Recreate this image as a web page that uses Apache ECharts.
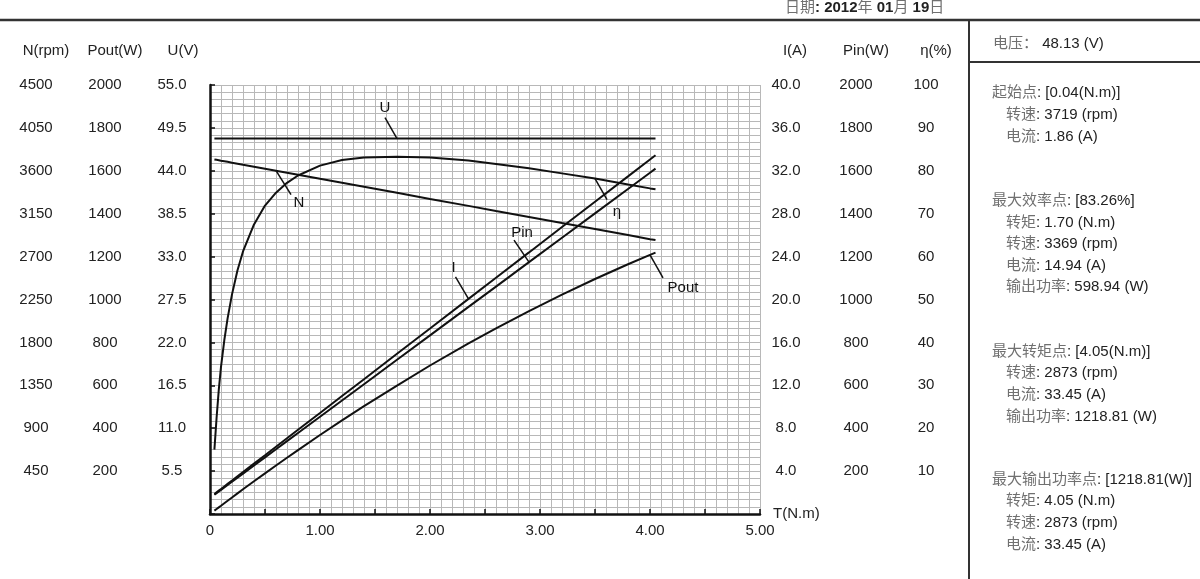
<!DOCTYPE html>
<html><head><meta charset="utf-8">
<script src="https://cdn.jsdelivr.net/npm/echarts@6/dist/echarts.min.js"></script>
<style>html,body{margin:0;padding:0;background:#fff}#c{width:1200px;height:579px}</style>
</head><body><div id="c"></div>
<script>
// ---- data ----
const torque      = [0.04,0.06,0.08,0.10,0.13,0.16,0.20,0.25,0.30,0.40,0.50,0.60,0.70,0.80,1.00,1.20,1.40,1.70,2.00,2.35,2.60,2.90,3.20,3.50,3.80,4.00,4.05];
const speed       = [3719,3715,3711,3706,3700,3694,3685,3675,3664,3643,3622,3601,3580,3559,3516,3474,3432,3369,3305,3232,3179,3116,3052,2989,2926,2883,2873];
const current     = [1.86,2.02,2.18,2.33,2.57,2.81,3.12,3.52,3.91,4.70,5.48,6.27,7.06,7.85,9.42,11.00,12.57,14.94,17.30,20.06,22.03,24.39,26.76,29.12,31.48,33.06,33.45];
const inputPower  = [89.5,97.1,104.7,112.3,123.6,135.0,150.2,169.2,188.1,226.0,263.9,301.9,339.8,377.7,453.5,529.4,605.2,719.0,832.7,965.4,1060.2,1174.0,1287.7,1401.5,1515.2,1591.0,1610.0];
const outputPower = [15.6,23.3,31.1,38.8,50.4,61.9,77.2,96.2,115.1,152.6,189.6,226.3,262.4,298.1,368.2,436.6,503.2,598.9,692.3,795.2,865.5,946.1,1022.8,1095.5,1164.2,1207.8,1218.8];
const efficiency  = [15.0,22.5,29.0,34.3,40.5,45.6,51.2,56.8,61.2,67.5,71.9,74.9,77.2,78.9,81.2,82.5,83.1,83.26,83.1,82.4,81.6,80.6,79.4,78.2,76.8,75.9,75.7];
const voltage     = [48.13,48.13,48.13,48.13,48.13,48.13,48.13,48.13,48.13,48.13,48.13,48.13,48.13,48.13,48.13,48.13,48.13,48.13,48.13,48.13,48.13,48.13,48.13,48.13,48.13,48.13,48.13];

// tick labels (index 0 = axis minimum, left blank)
const xTicks     = ['0','','1.00','','2.00','','3.00','','4.00','','5.00'];
const speedTicks = ['','450','900','1350','1800','2250','2700','3150','3600','4050','4500'];
const poutTicks  = ['','200','400','600','800','1000','1200','1400','1600','1800','2000'];
const uTicks     = ['','5.5','11.0','16.5','22.0','27.5','33.0','38.5','44.0','49.5','55.0'];
const iTicks     = ['','4.0','8.0','12.0','16.0','20.0','24.0','28.0','32.0','36.0','40.0'];
const pinTicks   = ['','200','400','600','800','1000','1200','1400','1600','1800','2000'];
const effTicks   = ['','10','20','30','40','50','60','70','80','90','100'];

const axisHeaders = ['N(rpm)','Pout(W)','U(V)','I(A)','Pin(W)','η(%)'];
const panelTexts = [
  ['起始点: [0.04(N.m)]', 0],
  ['转速: 3719 (rpm)', 1],
  ['电流: 1.86 (A)', 1],
  ['最大效率点: [83.26%]', 0],
  ['转矩: 1.70 (N.m)', 1],
  ['转速: 3369 (rpm)', 1],
  ['电流: 14.94 (A)', 1],
  ['输出功率: 598.94 (W)', 1],
  ['最大转矩点: [4.05(N.m)]', 0],
  ['转速: 2873 (rpm)', 1],
  ['电流: 33.45 (A)', 1],
  ['输出功率: 1218.81 (W)', 1],
  ['最大输出功率点: [1218.81(W)]', 0],
  ['转矩: 4.05 (N.m)', 1],
  ['转速: 2873 (rpm)', 1],
  ['电流: 33.45 (A)', 1]
];
const panelY = [93,115,137,201,223,244,266,287,352,373,395,417,480,501,523,545];

const FONT = '"Liberation Sans", Arial, "Noto Sans CJK SC", sans-serif';
const CJK = '"Noto Sans CJK SC", sans-serif';
const FS = 15;

const chart = echarts.init(document.getElementById('c'));

const gridLine = {show:true, lineStyle:{color:'#b8b8b8', width:1}};
function yAxis(min, max, pos, margin, ticks, main) {
  return {
    type:'value', min:min, max:max, interval:(max-min)/10, position:pos, offset:0,
    axisLine:{show:!!main, lineStyle:{color:'#111', width:2.5}},
    axisTick:{show:!!main, inside:true, length:5, lineStyle:{color:'#111', width:1.5}},
    axisLabel:{show:true, margin:margin, align:'center', color:'#222', fontSize:FS, fontFamily:FONT,
      formatter:(v, i) => ticks[i] || ''},
    splitLine: main ? gridLine : {show:false},
    minorTick: {show:false, splitNumber:6},
    minorSplitLine: main ? {show:true, lineStyle:{color:'#b8b8b8', width:1}} : {show:false}
  };
}

function pairs(ys){ return torque.map((t,i)=>[t, ys[i]]); }
function line(name, yi, ys){
  return {name:name, type:'line', yAxisIndex:yi, data:pairs(ys), showSymbol:false, symbol:'none',
    smooth:false, silent:true, lineStyle:{color:'#111', width:2}, z:5};
}

chart.setOption({
  animation:false,
  backgroundColor:'#fff',
  grid:{left:210, right:440, top:85, bottom:65, show:false},
  xAxis:{type:'value', min:0, max:5, interval:0.5,
    name:'T(N.m)', nameLocation:'end', nameGap:13,
    nameTextStyle:{color:'#222', fontSize:FS, fontFamily:FONT, align:'left', verticalAlign:'middle'},
    axisLine:{show:true, lineStyle:{color:'#111', width:2.5}},
    axisTick:{show:true, inside:true, length:5, lineStyle:{color:'#111', width:1.5}},
    axisLabel:{margin:9, color:'#222', fontSize:FS, fontFamily:FONT, formatter:(v,i)=>xTicks[i]||''},
    splitLine:gridLine,
    minorTick:{show:false, splitNumber:5},
    minorSplitLine:{show:true, lineStyle:{color:'#b8b8b8', width:1}}
  },
  yAxis:[
    yAxis(0,4500,'left',174,speedTicks,false),
    yAxis(0,2000,'left',105,poutTicks,false),
    yAxis(0,55,'left',38,uTicks,true),
    yAxis(0,40,'right',26,iTicks,false),
    yAxis(0,2000,'right',96,pinTicks,false),
    yAxis(0,100,'right',166,effTicks,false)
  ],
  series:[
    line('N',0,speed),
    line('Pout',1,outputPower),
    line('U',2,voltage),
    line('I',3,current),
    line('Pin',4,inputPower),
    line('η',5,efficiency)
  ]
});

// ---- annotations & panel ----
function rich(str){ return str.replace(/([\u4e00-\u9fff\uff1a]+)/g, '{c|$1}'); }
const g = [];
function txt(x,y,text,opt){
  opt = opt||{};
  const w = opt.bold ? 'bold' : 'normal';
  g.push({type:'text', x:x, y:y, silent:true, z:10, style:Object.assign({
    text:text, fontSize:FS, fontFamily:FONT, fontWeight:w, fill:'#222', lineHeight:20,
    align:opt.align||'left', verticalAlign:'middle',
    rich:{
      c:{fill:'#707070', fontFamily:CJK, fontSize:15, fontWeight:'normal', lineHeight:20, verticalAlign:'middle', padding:[0,0,3,0]}
    }
  }, opt.style||{})});
}
function ln(x1,y1,x2,y2,w,c){
  g.push({type:'line', silent:true, z:10, shape:{x1:x1,y1:y1,x2:x2,y2:y2}, style:{stroke:c||'#222', lineWidth:w||2}});
}

// frame lines
ln(0,20,1200,20,2.5,'#333');
ln(969,20,969,579,2,'#333');
ln(969,62,1200,62,2,'#333');

// axis headers
const headerX = [46,115,183,795,866,936];
axisHeaders.forEach((h,i)=>txt(headerX[i],51,h,{align:'center'}));

// date and voltage
txt(785,8,rich('日期')+': 2012'+rich('年')+' 01'+rich('月')+' 19'+rich('日'),{bold:true});
txt(993,44,rich('电压：')+' 48.13 (V)');

panelTexts.forEach((p,i)=>txt(p[1]?1006:992, panelY[i], rich(p[0])));

// curve annotations anchored on data points
const notes = [
  {label:'U',    yi:2, ys:voltage,     t:1.70, dx:-12, dy:-21, lx:0,  ly:-10},
  {label:'N',    yi:0, ys:speed,       t:0.60, dx:15,  dy:24,  lx:8,  ly:8},
  {label:'η',    yi:5, ys:efficiency,  t:3.50, dx:12,  dy:21,  lx:10, ly:12},
  {label:'Pin',  yi:4, ys:inputPower,  t:2.90, dx:-15, dy:-22, lx:8,  ly:-7},
  {label:'I',    yi:3, ys:current,     t:2.35, dx:-13, dy:-22, lx:-2, ly:-9},
  {label:'Pout', yi:1, ys:outputPower, t:4.00, dx:13,  dy:23,  lx:20, ly:10}
];
notes.forEach(n=>{
  const k = torque.indexOf(n.t);
  const p = chart.convertToPixel({xAxisIndex:0, yAxisIndex:n.yi}, [torque[k], n.ys[k]]);
  const ex = p[0]+n.dx, ey = p[1]+n.dy;
  ln(p[0], p[1], ex, ey, 1.5, '#111');
  txt(ex+n.lx, ey+n.ly, n.label, {align:'center', style:{fill:'#111'}});
});

chart.setOption({graphic:g});
</script></body></html>
